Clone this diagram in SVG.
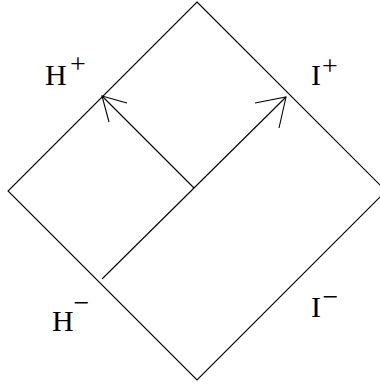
<svg xmlns="http://www.w3.org/2000/svg" width="380" height="388" viewBox="0 0 380 388">
  <style>
    .ln { fill: none; stroke: #000; stroke-width: 1.1; stroke-linejoin: miter; }
    .lbl { font-family: "Liberation Serif", "Times New Roman", serif; font-size: 30px; fill: #000; }
    .sup { font-family: "Liberation Serif", "Times New Roman", serif; font-size: 28px; fill: #000; text-anchor: middle; }
  </style>
  <rect width="380" height="388" fill="#fff"/>
  <g id="diamond">
    <polygon class="ln" points="197,2 386,191 197,380 8,191"/>
  </g>
  <g id="connectors">
    <path class="ln" d="M102,279 L286,97"/>
    <path class="ln" d="M255,103 L286,97 L279,128"/>
    <path class="ln" d="M194,188 L102,96"/>
    <path class="ln" d="M127,103 L102,96 L109,122"/>
  </g>
  <g id="label-Hplus">
    <text class="lbl" x="45" y="85">H</text>
    <text class="sup" x="78" y="73">+</text>
  </g>
  <g id="label-Iplus">
    <text class="lbl" x="311" y="85">I</text>
    <text class="sup" x="330" y="75">+</text>
  </g>
  <g id="label-Hminus">
    <text class="lbl" x="52" y="331">H</text>
    <text class="sup" x="81.5" y="312">−</text>
  </g>
  <g id="label-Iminus">
    <text class="lbl" x="311" y="317">I</text>
    <text class="sup" x="330.5" y="306">−</text>
  </g>
</svg>
